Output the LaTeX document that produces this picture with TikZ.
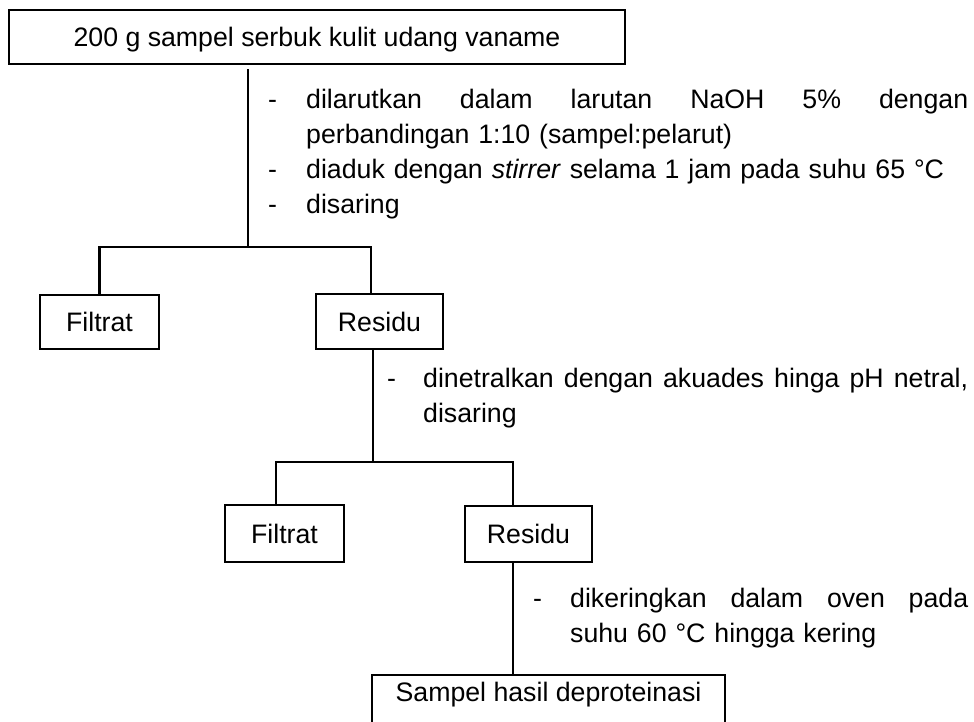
\documentclass[tikz,border=0pt]{standalone}
\usepackage{fontspec}
\setmainfont{Liberation Sans}
\begin{document}
\begin{tikzpicture}[x=1pt,y=-1pt,
  every node/.style={font=\fontsize{26.7}{35}\selectfont},
  box/.style={draw, line width=2.6pt, inner sep=0pt, text height=19.5pt, text depth=0pt, align=center},
  link/.style={line width=2.6pt},
  dashmark/.style={anchor=base west, inner sep=0pt},
  stepnote/.style={anchor=base west, inner sep=0pt, align=left}
]
\useasboundingbox (0,0) rectangle (974,721);

% boxes
\node[box, minimum width=616pt, minimum height=54pt] (top) at (317,37) {200 g sampel serbuk kulit udang vaname};
\node[box, minimum width=119pt, minimum height=54pt] (f1) at (99.5,322) {Filtrat};
\node[box, minimum width=127pt, minimum height=55pt] (r1) at (379.5,321.5) {Residu};
\node[box, minimum width=119pt, minimum height=57pt] (f2) at (284.5,533.5) {Filtrat};
\node[box, minimum width=127pt, minimum height=56pt] (r2) at (528.5,534) {Residu};
\node[box, minimum width=353pt, minimum height=56pt, text depth=23.5pt] (bot) at (548.5,703) {Sampel hasil deproteinasi};

% junction points
\coordinate (j1) at (248,247);
\coordinate (k1) at (371,247);
\coordinate (j2) at (373,462);
\coordinate (k2a) at (276,462);
\coordinate (k2b) at (513,462);

% connectors
\draw[link] ([yshift=-4pt]top.south -| j1) -- (j1);
\draw[link] (f1.north) |- (k1) -- (k1 |- r1.north);
\draw[link] (r1.south -| j2) -- (j2);
\draw[link] (k2a |- f2.north) -- (k2a) -- (k2b) -- (k2b |- r2.north);
\draw[link] (r2.south -| k2b) -- (bot.north -| k2b);

% step notes, block 1
\node[dashmark] (d1a) at (268,108) {-};
\node[dashmark] (d1b) at (268,178) {-};
\node[dashmark] (d1c) at (268,213) {-};
\node[stepnote, text width=662pt] (n1) at (306,108)
  {\makebox[662pt]{dilarutkan\hfill dalam\hfill larutan\hfill NaOH\hfill 5\%\hfill dengan}\\
   perbandingan 1:10 (sampel:pelarut)\\
   diaduk dengan \textit{stirrer} selama 1 jam pada suhu 65 °C\\
   disaring};

% block 2
\node[dashmark] (d2) at (387,387) {-};
\node[stepnote, text width=545pt] (n2) at (423,387)
  {\makebox[545pt]{dinetralkan\hfill dengan\hfill akuades\hfill hinga\hfill pH\hfill netral,}\\
   disaring};

% block 3
\node[dashmark] (d3) at (533,607) {-};
\node[stepnote, text width=398pt] (n3) at (570,607)
  {\makebox[398pt]{dikeringkan\hfill dalam\hfill oven\hfill pada}\\
   suhu 60 °C hingga kering};
\end{tikzpicture}
\end{document}
